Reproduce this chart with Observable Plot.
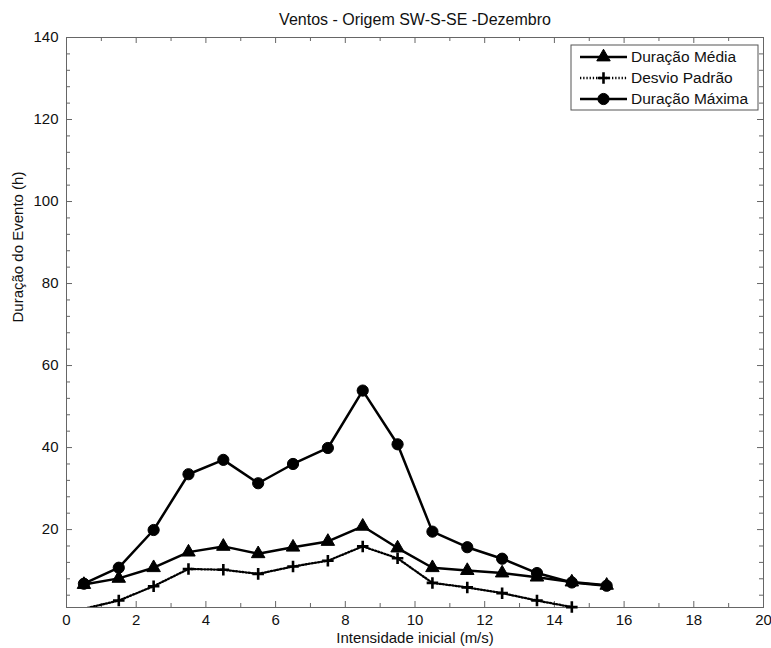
<!DOCTYPE html>
<html><head><meta charset="utf-8">
<script src="https://cdn.jsdelivr.net/npm/d3@7"></script>
<script src="https://cdn.jsdelivr.net/npm/@observablehq/plot@0.6"></script>
<style>body{margin:0;background:#fff} svg{display:block}</style>
</head><body><div id="chart"></div>
<script>
const title = "Ventos - Origem SW-S-SE -Dezembro";
const xLabel = "Intensidade inicial (m/s)";
const yLabel = "Duração do Evento (h)";
const seriesNames = ["Duração Média", "Desvio Padrão", "Duração Máxima"];
const intensidade = [0.5, 1.5, 2.5, 3.5, 4.5, 5.5, 6.5, 7.5, 8.5, 9.5, 10.5, 11.5, 12.5, 13.5, 14.5, 15.5];
const duracaoMedia = [6.6, 8.1, 10.7, 14.5, 15.9, 14.1, 15.7, 17.1, 20.8, 15.5, 10.7, 10.0, 9.4, 8.4, 7.2, 6.4];
const desvioPadrao = [0.7, 2.7, 6.2, 10.4, 10.2, 9.2, 11.0, 12.4, 15.9, 13.0, 7.0, 5.9, 4.5, 2.7, 1.1, null];
const duracaoMaxima = [6.8, 10.7, 19.9, 33.5, 37.0, 31.3, 36.0, 39.9, 53.9, 40.8, 19.5, 15.7, 12.9, 9.4, 7.1, 6.3];
const xTicks = [0, 2, 4, 6, 8, 10, 12, 14, 16, 18, 20];
const yTicks = [20, 40, 60, 80, 100, 120, 140];
const xDomain = [0, 20];
const yDomain = [1, 140];

const W = 771, H = 648, mL = 66, mR = 8, mT = 37, mB = 41;
const fw = W - mL - mR, fh = H - mT - mB;
const axisColor = "#666";
const font = "'Liberation Sans', Arial, Helvetica, sans-serif";

const rows = vals => intensidade.map((x, i) => ({x, y: vals[i]})).filter(d => d.y != null);
const media = rows(duracaoMedia), desvio = rows(desvioPadrao), maxima = rows(duracaoMaxima);
const visible = d => d.y >= yDomain[0] && d.y <= yDomain[1];

const xMinor = d3.range(xDomain[0], xDomain[1] + 1, 1).filter(v => !xTicks.includes(v));
const yMinor = d3.range(4, yDomain[1] + 1, 4).filter(v => !yTicks.includes(v));

const symR = {triangle: 5, plus: 3.8, circle: 5.6};
const dotted = "1.3,1.9";

const chart = Plot.plot({
  width: W, height: H,
  marginLeft: mL, marginRight: mR, marginTop: mT, marginBottom: mB,
  style: {fontFamily: font, fontSize: "15px", background: "#fff", color: "#111", overflow: "visible"},
  x: {domain: xDomain, ticks: xTicks, tickSize: 0, tickPadding: 7, label: null},
  y: {domain: yDomain, ticks: yTicks, tickSize: 0, tickPadding: 8, label: null},
  marks: [
    Plot.frame({stroke: axisColor}),
    // inward ticks on all four sides
    Plot.tickX(xTicks, {x: d => d, insetTop: fh - 6, stroke: axisColor}),
    Plot.tickX(xTicks, {x: d => d, insetBottom: fh - 6, stroke: axisColor}),
    Plot.tickX(xMinor, {x: d => d, insetTop: fh - 4, stroke: axisColor}),
    Plot.tickX(xMinor, {x: d => d, insetBottom: fh - 4, stroke: axisColor}),
    Plot.tickY(yTicks, {y: d => d, insetRight: fw - 6, stroke: axisColor}),
    Plot.tickY(yTicks, {y: d => d, insetLeft: fw - 6, stroke: axisColor}),
    Plot.tickY(yMinor, {y: d => d, insetRight: fw - 4, stroke: axisColor}),
    Plot.tickY(yMinor, {y: d => d, insetLeft: fw - 4, stroke: axisColor}),
    // series
    Plot.line(media, {x: "x", y: "y", stroke: "#000", strokeWidth: 2.5, clip: true}),
    Plot.dot(media.filter(visible), {x: "x", y: "y", symbol: "triangle", r: symR.triangle, fill: "#000", stroke: "#000", strokeWidth: 1}),
    Plot.line(desvio, {x: "x", y: "y", stroke: "#000", strokeWidth: 2.3, strokeDasharray: dotted, clip: true}),
    Plot.dot(desvio.filter(visible), {x: "x", y: "y", symbol: "plus", r: symR.plus, stroke: "#000", strokeWidth: 2.6}),
    Plot.line(maxima, {x: "x", y: "y", stroke: "#000", strokeWidth: 2.5, clip: true}),
    Plot.dot(maxima.filter(visible), {x: "x", y: "y", symbol: "circle", r: symR.circle, fill: "#000", stroke: "#000", strokeWidth: 1}),
    // labels
    Plot.text([title], {frameAnchor: "top", lineAnchor: "middle", dy: -18, fontSize: 16, fill: "#111"}),
    Plot.text([xLabel], {frameAnchor: "bottom", lineAnchor: "middle", dy: 31, fontSize: 15, fill: "#111"}),
    Plot.text([yLabel], {frameAnchor: "left", lineAnchor: "middle", dx: -48, rotate: -90, fontSize: 15, fill: "#111"})
  ]
});
document.getElementById("chart").appendChild(chart);

// legend
const svg = d3.select(chart);
const lg = svg.append("g").attr("font-family", font).attr("font-size", 15.5);
lg.append("rect").attr("x", 571).attr("y", 45).attr("width", 187).attr("height", 65)
  .attr("fill", "#fff").attr("stroke", "#555");
const legendSpec = [
  {name: seriesNames[0], dash: null, width: 2.5, sym: d3.symbolTriangle, r: symR.triangle, fill: "#000"},
  {name: seriesNames[1], dash: dotted, width: 2.3, sym: d3.symbolPlus, r: symR.plus, fill: "none"},
  {name: seriesNames[2], dash: null, width: 2.5, sym: d3.symbolCircle, r: symR.circle, fill: "#000"}
];
legendSpec.forEach((s, i) => {
  const y = 57 + i * 21;
  lg.append("line").attr("x1", 580).attr("x2", 627).attr("y1", y).attr("y2", y)
    .attr("stroke", "#000").attr("stroke-width", s.width).attr("stroke-dasharray", s.dash);
  lg.append("path").attr("transform", `translate(603.5,${y})`)
    .attr("d", d3.symbol(s.sym, Math.PI * s.r * s.r)())
    .attr("fill", s.fill).attr("stroke", "#000").attr("stroke-width", s.fill === "none" ? 2.6 : 1);
  lg.append("text").attr("x", 631).attr("y", y).attr("dy", "0.35em")
    .attr("text-anchor", "start").attr("fill", "#111").text(s.name);
});
</script>
</body></html>
